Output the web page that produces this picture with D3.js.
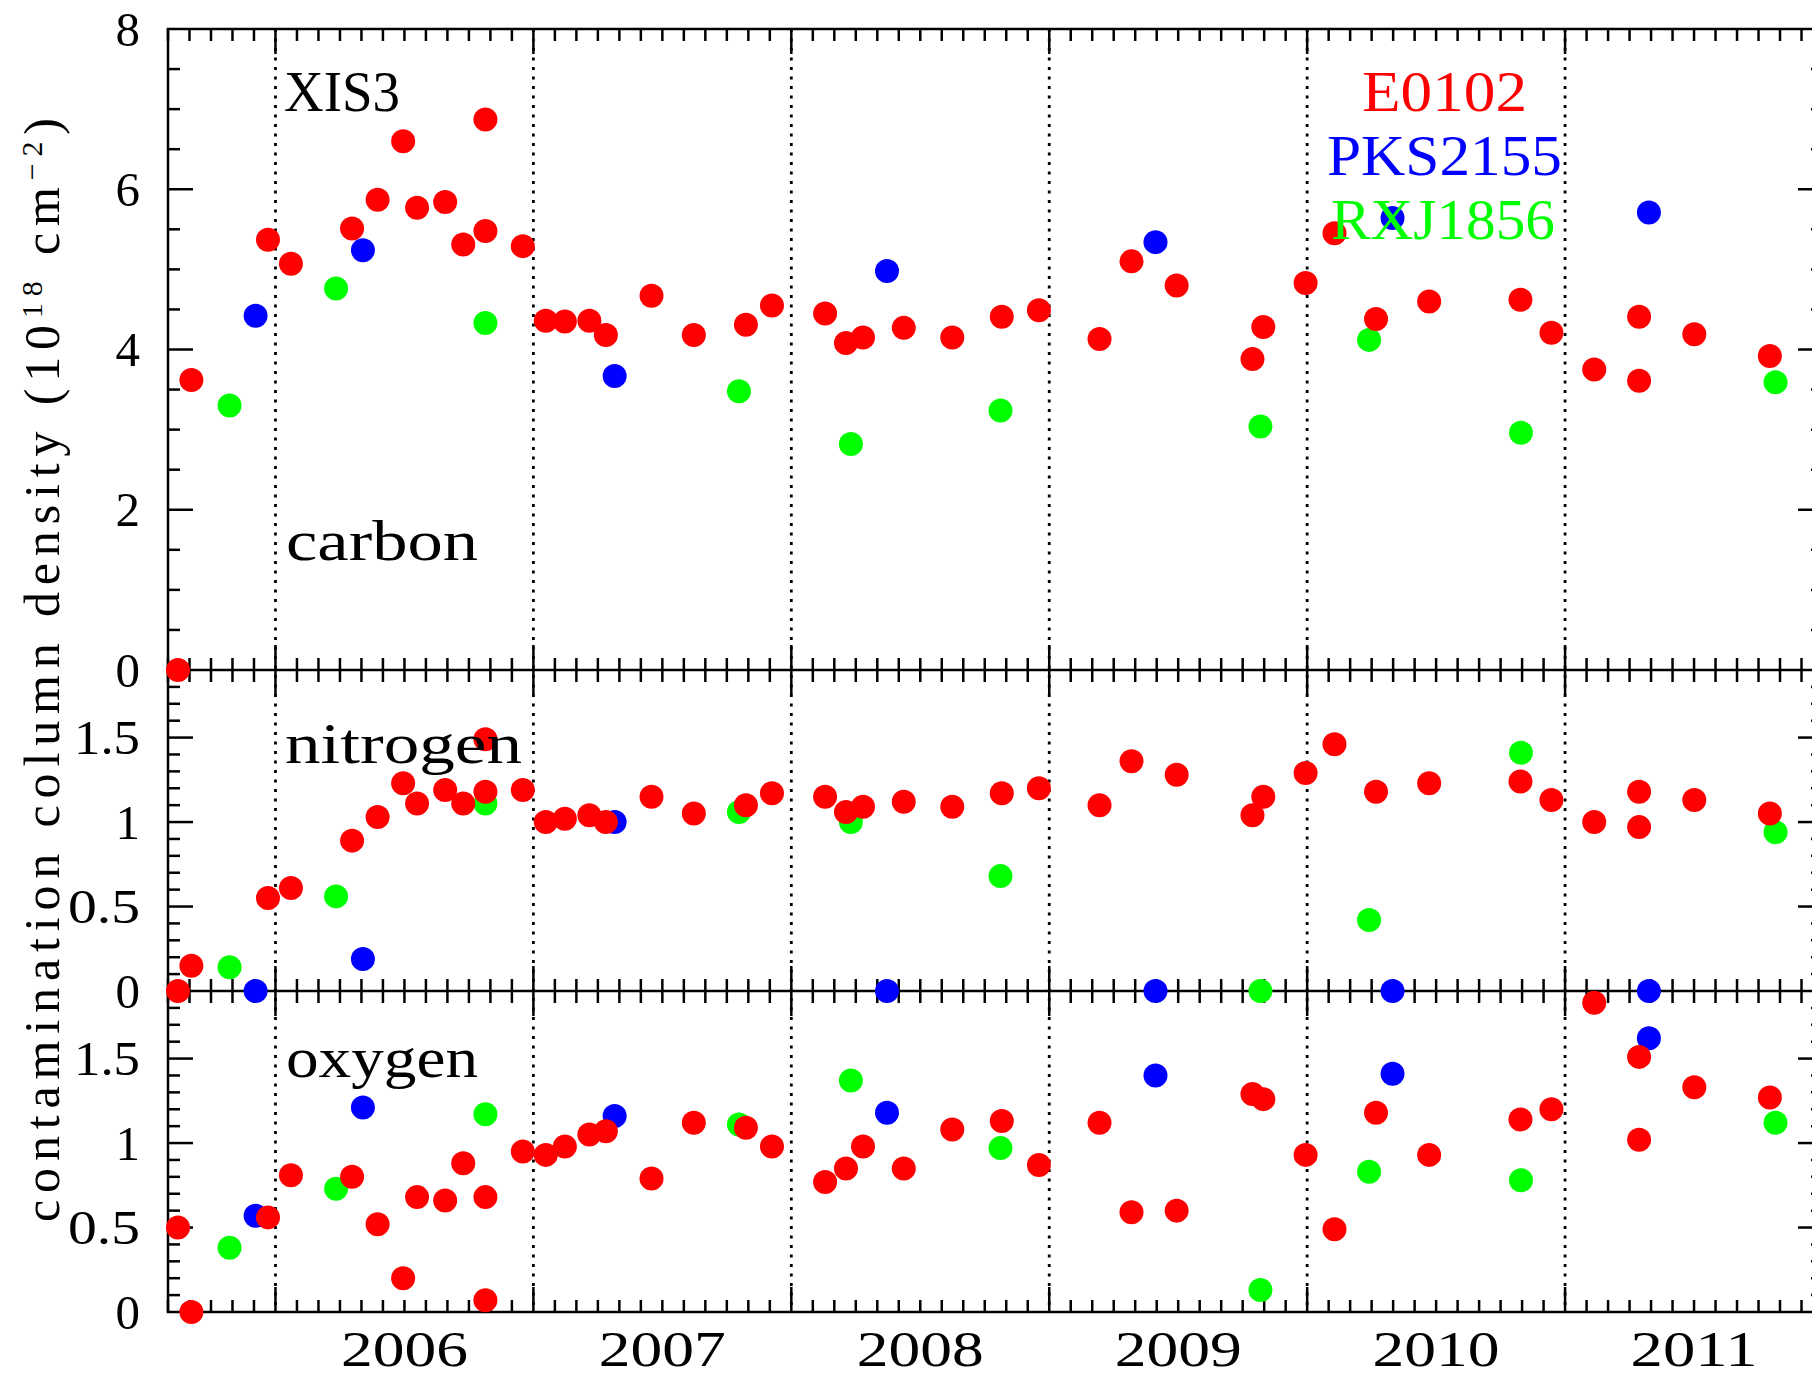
<!DOCTYPE html>
<html><head><meta charset="utf-8">
<script src="https://cdn.jsdelivr.net/npm/d3@7"></script>
<style>html,body{margin:0;padding:0;background:#fff;overflow:hidden}</style>
</head><body>
<script>
// ---------------- data ----------------
const sources = ["E0102", "PKS2155", "RXJ1856"];
const sourceColors = ["#ff0000", "#0000ff", "#00ff00"];
const panelNames = ["carbon", "nitrogen", "oxygen"];
const yearLabels = ["2006", "2007", "2008", "2009", "2010", "2011"];
const carbonTicks = [0, 2, 4, 6, 8];
const nitrogenTicks = [0, 0.5, 1, 1.5];
const oxygenTicks = [0, 0.5, 1, 1.5];

const e0102Dates = [2005.622, 2005.674, 2005.971, 2006.060, 2006.297, 2006.396, 2006.495, 2006.549, 2006.658, 2006.728, 2006.814, 2006.814, 2006.959, 2007.048, 2007.122, 2007.217, 2007.281, 2007.458, 2007.622, 2007.824, 2007.925, 2008.131, 2008.212, 2008.278, 2008.436, 2008.624, 2008.816, 2008.960, 2009.195, 2009.319, 2009.494, 2009.788, 2009.830, 2009.994, 2010.106, 2010.267, 2010.473, 2010.827, 2010.947, 2011.113, 2011.287, 2011.287, 2011.501, 2011.794];
const e0102Carbon = [0, 3.62, 5.37, 5.07, 5.51, 5.87, 6.60, 5.77, 5.84, 5.31, 6.87, 5.48, 5.29, 4.36, 4.35, 4.36, 4.18, 4.67, 4.18, 4.31, 4.55, 4.45, 4.08, 4.15, 4.27, 4.15, 4.41, 4.49, 4.13, 5.10, 4.80, 3.88, 4.28, 4.83, 5.45, 4.38, 4.60, 4.62, 4.21, 3.75, 4.41, 3.61, 4.19, 3.92];
const e0102Nitrogen = [0, 0.15, 0.55, 0.61, 0.89, 1.03, 1.23, 1.11, 1.19, 1.11, 1.49, 1.18, 1.19, 1.00, 1.02, 1.04, 1.00, 1.15, 1.05, 1.10, 1.17, 1.15, 1.06, 1.09, 1.12, 1.09, 1.17, 1.20, 1.10, 1.36, 1.28, 1.04, 1.15, 1.29, 1.46, 1.18, 1.23, 1.24, 1.13, 1.00, 1.18, 0.97, 1.13, 1.05];
const e0102Oxygen = [0.50, 0.00, 0.56, 0.81, 0.80, 0.52, 0.20, 0.68, 0.66, 0.88, 0.07, 0.68, 0.95, 0.93, 0.98, 1.05, 1.07, 0.79, 1.12, 1.09, 0.98, 0.77, 0.85, 0.98, 0.85, 1.08, 1.13, 0.87, 1.12, 0.59, 0.60, 1.29, 1.26, 0.93, 0.49, 1.18, 0.93, 1.14, 1.20, 1.83, 1.51, 1.02, 1.33, 1.27];

const pksDates = [2005.923, 2006.339, 2007.315, 2008.371, 2009.412, 2010.331, 2011.325];
const pksCarbon = [4.42, 5.24, 3.67, 4.98, 5.34, 5.64, 5.71];
const pksNitrogen = [0, 0.19, 1.00, 0, 0, 0, 0];
const pksOxygen = [0.57, 1.21, 1.16, 1.18, 1.40, 1.41, 1.62];

const rxjDates = [2005.822, 2006.235, 2006.814, 2007.797, 2008.231, 2008.811, 2009.819, 2010.240, 2010.829, 2011.816];
const rxjCarbon = [3.30, 4.76, 4.33, 3.48, 2.82, 3.24, 3.04, 4.12, 2.96, 3.59];
const rxjNitrogen = [0.14, 0.56, 1.11, 1.06, 1.00, 0.68, 0, 0.42, 1.41, 0.94];
const rxjOxygen = [0.38, 0.73, 1.17, 1.11, 1.37, 0.97, 0.13, 0.83, 0.78, 1.12];

// ---------------- layout ----------------
const W = 1812, H = 1377;
const L = 168, R = 1823, T = 29, B1 = 670, B2 = 991, B3 = 1312;
const FONT = "'Liberation Serif', 'Times New Roman', serif";

const svg = d3.select("body").append("svg")
  .attr("width", W).attr("height", H)
  .style("font-family", FONT);

const x = d3.scaleLinear().domain([2005 + 7/12, 2012]).range([L, R]);
const yC = d3.scaleLinear().domain([0, 8]).range([B1, T]);
const yN = d3.scaleLinear().domain([0, 1.9]).range([B2, B1]);
const yO = d3.scaleLinear().domain([0, 1.9]).range([B3, B2]);

const panels = [
  {name: panelNames[0], y: yC, ticks: carbonTicks, minor: 0.5, top: T, bottom: B1},
  {name: panelNames[1], y: yN, ticks: nitrogenTicks, minor: 0.1, top: B1, bottom: B2},
  {name: panelNames[2], y: yO, ticks: oxygenTicks, minor: 0.1, top: B2, bottom: B3}
];

const LW = 2.5;
const MINOR = 12, MAJOR = 25;

// dotted year lines
const yearBounds = d3.range(2006, 2012);
svg.append("g").selectAll("line").data(yearBounds).join("line")
  .attr("x1", d => x(d)).attr("x2", d => x(d))
  .attr("y1", T).attr("y2", B3)
  .attr("stroke", "#000").attr("stroke-width", 2.8)
  .attr("stroke-dasharray", "3,6.5");

// frame
const axes = svg.append("g").attr("stroke", "#000").attr("stroke-width", LW).attr("fill", "none");
axes.append("rect").attr("x", L).attr("y", T).attr("width", R - L).attr("height", B3 - T);
[B1, B2].forEach(yy => axes.append("line").attr("x1", L).attr("x2", R).attr("y1", yy).attr("y2", yy));

// x ticks (monthly minor, yearly major)
const monthTicks = d3.range(0, 78).map(i => 2005 + (7 + i) / 12).filter(v => v <= 2012 + 1e-9);
const isYear = v => Math.abs(v - Math.round(v)) < 1e-6;
monthTicks.forEach(v => {
  const len = isYear(v) ? MAJOR : MINOR;
  const xx = x(v);
  axes.append("line").attr("x1", xx).attr("x2", xx).attr("y1", T).attr("y2", T + len);
  [B1, B2].forEach(yy => axes.append("line").attr("x1", xx).attr("x2", xx).attr("y1", yy - len).attr("y2", yy + len));
  axes.append("line").attr("x1", xx).attr("x2", xx).attr("y1", B3 - len).attr("y2", B3);
});

// y ticks
panels.forEach(p => {
  const [d0, d1] = p.y.domain();
  const n = Math.round((d1 - d0) / p.minor);
  for (let i = 1; i <= n; i++) {
    const v = d0 + i * p.minor;
    if (v > d1 + 1e-9) break;
    const major = p.ticks.some(t => Math.abs(t - v) < 1e-6);
    const len = major ? MAJOR : MINOR;
    const yy = p.y(v);
    if (Math.abs(yy - p.top) < 1) continue;
    axes.append("line").attr("x1", L).attr("x2", L + len).attr("y1", yy).attr("y2", yy);
    axes.append("line").attr("x1", R - len).attr("x2", R).attr("y1", yy).attr("y2", yy);
  }
});

// y tick labels
const labelG = svg.append("g").attr("fill", "#000").style("font-size", "49px");
panels.forEach(p => {
  p.ticks.forEach(t => {
    const s = String(t);
    const tx = labelG.append("text")
      .attr("x", 140).attr("y", p.y(t) + 16.5)
      .attr("text-anchor", "end").text(s);
    if (s.length === 3) tx.attr("textLength", s[0] === "1" ? 66 : 72).attr("lengthAdjust", "spacingAndGlyphs");
  });
});

// year labels
yearLabels.forEach(lab => {
  const yv = +lab + 0.5;
  svg.append("text").attr("x", x(yv)).attr("y", 1366)
    .attr("text-anchor", "middle").style("font-size", "50px")
    .attr("textLength", 127).attr("lengthAdjust", "spacingAndGlyphs")
    .text(lab);
});

// points: draw green, blue, red (red on top)
const seriesList = [
  {color: sourceColors[2], dates: rxjDates, vals: [rxjCarbon, rxjNitrogen, rxjOxygen]},
  {color: sourceColors[1], dates: pksDates, vals: [pksCarbon, pksNitrogen, pksOxygen]},
  {color: sourceColors[0], dates: e0102Dates, vals: [e0102Carbon, e0102Nitrogen, e0102Oxygen]}
];
const ptG = svg.append("g");
seriesList.forEach(s => {
  panels.forEach((p, pi) => {
    ptG.append("g").selectAll("circle").data(s.dates).join("circle")
      .attr("cx", d => x(d))
      .attr("cy", (d, i) => p.y(s.vals[pi][i]))
      .attr("r", 12)
      .attr("fill", s.color);
  });
});

// panel labels
const big = "56px";
function label(txt, x0, y0, len, color) {
  svg.append("text").attr("x", x0).attr("y", y0)
    .style("font-size", big).attr("fill", color || "#000")
    .attr("textLength", len).attr("lengthAdjust", "spacingAndGlyphs")
    .text(txt);
}
label("XIS3", 284, 111, 116);
label(panelNames[0], 286, 560, 192);
label(panelNames[1], 285, 763, 237);
label(panelNames[2], 286, 1077, 192);

// legend
const legendY = [111, 174.5, 239];
const legendX = [1362, 1327, 1331];
const legendLen = [165, 235, 224];
sources.forEach((s, i) => label(s, legendX[i], legendY[i], legendLen[i], sourceColors[i]));

// y-axis title
const yt = svg.append("text")
  .attr("transform", "translate(59,670) rotate(-90)")
  .attr("text-anchor", "middle")
  .style("font-size", "50px")
  .attr("fill", "#000")
  .attr("textLength", 1104).attr("lengthAdjust", "spacing");
yt.append("tspan").text("contamination column density (10");
yt.append("tspan").attr("dy", -17).style("font-size", "30px").text("18");
yt.append("tspan").attr("dy", 17).text(" cm");
yt.append("tspan").attr("dy", -17).style("font-size", "30px").text("−2");
yt.append("tspan").attr("dy", 17).text(")");
</script>
</body></html>
